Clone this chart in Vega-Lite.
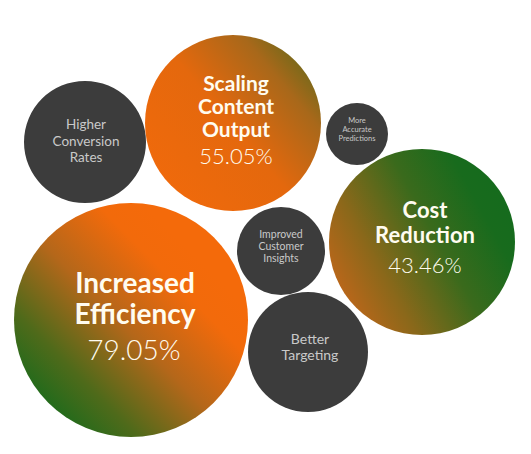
{
  "$schema": "https://vega.github.io/schema/vega-lite/v6.json",
  "width": 531,
  "height": 454,
  "autosize": {"type": "fit", "contains": "padding"},
  "padding": 0,
  "background": "white",
  "config": {"view": {"stroke": null}, "font": "Lato"},
  "data": {
    "values": [
      {"name": "Increased Efficiency", "title": "Increased\nEfficiency", "value": "79.05%", "kind": "color", "x": 131, "y": 320, "r": 117},
      {"name": "Scaling Content Output", "title": "Scaling\nContent\nOutput", "value": "55.05%", "kind": "color", "x": 233, "y": 123, "r": 88},
      {"name": "Cost Reduction", "title": "Cost\nReduction", "value": "43.46%", "kind": "color", "x": 422, "y": 242, "r": 93},
      {"name": "Higher Conversion Rates", "title": "Higher\nConversion\nRates", "value": "", "kind": "gray", "x": 85, "y": 142, "r": 61},
      {"name": "More Accurate Predictions", "title": "More\nAccurate\nPredictions", "value": "", "kind": "gray", "x": 357, "y": 134, "r": 31},
      {"name": "Improved Customer Insights", "title": "Improved\nCustomer\nInsights", "value": "", "kind": "gray", "x": 281, "y": 251, "r": 44},
      {"name": "Better Targeting", "title": "Better\nTargeting", "value": "", "kind": "gray", "x": 308, "y": 352, "r": 60}
    ]
  },
  "encoding": {
    "x": {"field": "x", "type": "quantitative", "scale": {"domain": [0, 531], "nice": false, "zero": false}, "axis": null},
    "y": {"field": "y", "type": "quantitative", "scale": {"domain": [0, 454], "nice": false, "zero": false, "reverse": true}, "axis": null},
    "text": {"field": "title"}
  },
  "layer": [
    {
      "transform": [{"filter": "datum.kind == 'gray'"}],
      "mark": {"type": "circle", "opacity": 1, "color": "#3c3c3c"},
      "encoding": {"size": {"field": "r", "type": "quantitative", "scale": {"type": "pow", "exponent": 2, "domain": [0, 120], "range": [0, 57600]}, "legend": null}}
    },
    {
      "transform": [{"filter": "datum.name == 'Increased Efficiency'"}],
      "mark": {"type": "circle", "opacity": 1, "color": {"gradient": "linear", "x1": 0.12, "y1": 0.92, "x2": 0.8, "y2": 0.25, "stops": [{"offset": 0, "color": "#136b1c"}, {"offset": 0.25, "color": "#4f6a1a"}, {"offset": 0.55, "color": "#b4671a"}, {"offset": 0.85, "color": "#f26a0b"}, {"offset": 1, "color": "#f46a0a"}]}},
      "encoding": {"size": {"field": "r", "type": "quantitative", "scale": {"type": "pow", "exponent": 2, "domain": [0, 120], "range": [0, 57600]}, "legend": null}}
    },
    {
      "transform": [{"filter": "datum.name == 'Scaling Content Output'"}],
      "mark": {"type": "circle", "opacity": 1, "color": {"gradient": "linear", "x1": 0.05, "y1": 0.95, "x2": 1, "y2": 0.15, "stops": [{"offset": 0, "color": "#f26a0b"}, {"offset": 0.5, "color": "#e4680d"}, {"offset": 0.8, "color": "#a8681a"}, {"offset": 1, "color": "#5f6a1a"}]}},
      "encoding": {"size": {"field": "r", "type": "quantitative", "scale": {"type": "pow", "exponent": 2, "domain": [0, 120], "range": [0, 57600]}, "legend": null}}
    },
    {
      "transform": [{"filter": "datum.name == 'Cost Reduction'"}],
      "mark": {"type": "circle", "opacity": 1, "color": {"gradient": "linear", "x1": 0, "y1": 0.85, "x2": 1, "y2": 0.3, "stops": [{"offset": 0, "color": "#cc661a"}, {"offset": 0.3, "color": "#8a681a"}, {"offset": 0.6, "color": "#3a6a1c"}, {"offset": 0.85, "color": "#186b1d"}, {"offset": 1, "color": "#156b1d"}]}},
      "encoding": {"size": {"field": "r", "type": "quantitative", "scale": {"type": "pow", "exponent": 2, "domain": [0, 120], "range": [0, 57600]}, "legend": null}}
    },
    {
      "transform": [{"filter": "datum.name == 'Increased Efficiency'"}],
      "mark": {"type": "text", "lineBreak": "\n", "fontSize": 28, "lineHeight": 31, "fontWeight": "bold", "color": "#fffcf0", "align": "center", "baseline": "alphabetic", "dx": 4, "dy": -27}
    },
    {
      "transform": [{"filter": "datum.name == 'Increased Efficiency'"}],
      "mark": {"type": "text", "fontSize": 28, "fontWeight": 300, "color": "#fffcf0", "align": "center", "baseline": "alphabetic", "dx": 3, "dy": 40},
      "encoding": {"text": {"field": "value"}}
    },
    {
      "transform": [{"filter": "datum.name == 'Scaling Content Output'"}],
      "mark": {"type": "text", "lineBreak": "\n", "fontSize": 21, "lineHeight": 23, "fontWeight": "bold", "color": "#fffcf0", "align": "center", "baseline": "alphabetic", "dx": 3, "dy": -32}
    },
    {
      "transform": [{"filter": "datum.name == 'Scaling Content Output'"}],
      "mark": {"type": "text", "fontSize": 22, "fontWeight": 300, "color": "#fffcf0", "align": "center", "baseline": "alphabetic", "dx": 3, "dy": 41},
      "encoding": {"text": {"field": "value"}}
    },
    {
      "transform": [{"filter": "datum.name == 'Cost Reduction'"}],
      "mark": {"type": "text", "lineBreak": "\n", "fontSize": 22, "lineHeight": 25, "fontWeight": "bold", "color": "#fffcf0", "align": "center", "baseline": "alphabetic", "dx": 3, "dy": -24}
    },
    {
      "transform": [{"filter": "datum.name == 'Cost Reduction'"}],
      "mark": {"type": "text", "fontSize": 22, "fontWeight": 300, "color": "#fffcf0", "align": "center", "baseline": "alphabetic", "dx": 3, "dy": 31},
      "encoding": {"text": {"field": "value"}}
    },
    {
      "transform": [{"filter": "datum.name == 'Higher Conversion Rates'"}],
      "mark": {"type": "text", "lineBreak": "\n", "fontSize": 13.5, "lineHeight": 16.5, "color": "#c9c9c9", "align": "center", "baseline": "alphabetic", "dx": 1, "dy": -13}
    },
    {
      "transform": [{"filter": "datum.name == 'Improved Customer Insights'"}],
      "mark": {"type": "text", "lineBreak": "\n", "fontSize": 10.5, "lineHeight": 12, "color": "#c9c9c9", "align": "center", "baseline": "alphabetic", "dy": -13}
    },
    {
      "transform": [{"filter": "datum.name == 'More Accurate Predictions'"}],
      "mark": {"type": "text", "lineBreak": "\n", "fontSize": 7.5, "lineHeight": 9, "color": "#c9c9c9", "align": "center", "baseline": "alphabetic", "dy": -11}
    },
    {
      "transform": [{"filter": "datum.name == 'Better Targeting'"}],
      "mark": {"type": "text", "lineBreak": "\n", "fontSize": 14, "lineHeight": 16, "color": "#c9c9c9", "align": "center", "baseline": "alphabetic", "dx": 2, "dy": -8}
    }
  ]
}
